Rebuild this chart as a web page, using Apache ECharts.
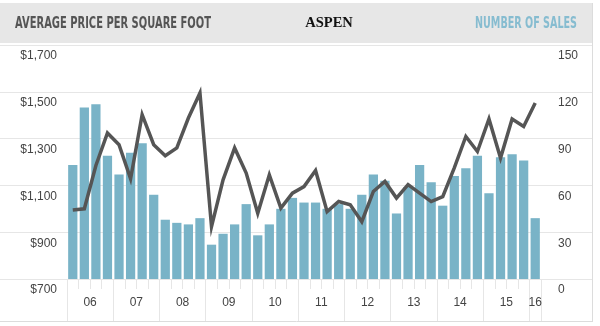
<!DOCTYPE html>
<html>
<head>
<meta charset="utf-8">
<title>Aspen</title>
<script src="https://cdn.jsdelivr.net/npm/echarts@6/dist/echarts.min.js"></script>
<style>
  html, body { margin: 0; padding: 0; background: #ffffff; }
  #chart { width: 600px; height: 326px; }
</style>
</head>
<body>
<div id="chart"></div>
<script>
// Quarterly series, 2006 Q1 through 2016 Q1
const yearLabels = ['06', '07', '08', '09', '10', '11', '12', '13', '14', '15', '16'];
const quarterNames = ['Q1', 'Q2', 'Q3', 'Q4'];

// Number of sales per quarter (right axis)
const sales = [
  73, 110, 112, 79, 67, 81, 87, 54,
  38, 36, 35, 39, 22, 29, 35, 48,
  28, 35, 45, 52, 49, 49, 45, 48,
  45, 54, 67, 63, 42, 59, 73, 62,
  47, 66, 71, 79, 55, 78, 80, 76,
  39
];

// Average price per square foot per quarter (left axis)
const pricePerSqFt = [
  995, 1000, 1185, 1324, 1274, 1128, 1402, 1274,
  1227, 1260, 1388, 1495, 924, 1124, 1260, 1153,
  981, 1145, 1003, 1067, 1095, 1164, 988, 1031,
  1017, 945, 1074, 1117, 1046, 1103, 1067, 1031,
  1052, 1175, 1309, 1245, 1384, 1217, 1384, 1352,
  1452
];

const priceTicks = { min: 700, max: 1700, step: 200 };
const salesTicks = { min: 0, max: 150, step: 30 };

// Category names built from the year labels
const quarters = [];
yearLabels.forEach(function (y) {
  quarterNames.forEach(function (q) {
    if (quarters.length < sales.length) quarters.push('20' + y + ' ' + q);
  });
});

// Year boundaries (in quarter units) and year-label anchor points
const yearStarts = [];
const yearMids = [];
for (let i = 0; i < yearLabels.length; i++) {
  const start = i * 4;
  const end = Math.min(start + 4, quarters.length);
  yearStarts.push(start);
  yearMids.push((start + end) / 2);
}
yearStarts.push(quarters.length);

const AXIS_FONT = 'Liberation Sans, Arial, Helvetica, sans-serif';
const HEAD_FONT = 'bold 16.5px "DejaVu Sans", sans-serif';

function dollars(v) {
  return '$' + String(v).replace(/\B(?=(\d{3})+(?!\d))/g, ',');
}

// Horizontal squeeze so a heading fits a given width (condensed look)
const measureCtx = document.createElement('canvas').getContext('2d');
function squeezeTo(text, font, width) {
  measureCtx.font = font;
  return width / measureCtx.measureText(text).width;
}

const leftHead = 'AVERAGE PRICE PER SQUARE FOOT';
const rightHead = 'NUMBER OF SALES';

const chart = echarts.init(document.getElementById('chart'), null, { renderer: 'canvas' });

chart.setOption({
  animation: false,
  backgroundColor: '#ffffff',
  grid: [
    { left: 67, right: 59, top: 45, bottom: 47 },
    { left: 0, right: 8, top: 45, bottom: 47 }
  ],
  xAxis: [
    {
      type: 'category',
      gridIndex: 0,
      data: quarters,
      boundaryGap: true,
      axisLine: { show: false },
      axisTick: { show: true, interval: 0, length: 10, lineStyle: { color: '#e6e6e6', width: 1 } },
      axisLabel: { show: false },
      splitLine: { show: false }
    },
    {
      type: 'value',
      gridIndex: 0,
      position: 'bottom',
      min: 0,
      max: quarters.length,
      axisLine: { show: false },
      splitLine: { show: false },
      axisTick: { show: true, customValues: yearStarts, length: 42, lineStyle: { color: '#e6e6e6', width: 1 } },
      axisLabel: {
        show: true,
        customValues: yearMids,
        formatter: function (v) { return yearLabels[Math.floor(v / 4)]; },
        color: '#444',
        fontFamily: AXIS_FONT,
        fontSize: 12,
        margin: 18
      }
    },
    { type: 'value', gridIndex: 1, show: false, min: 0, max: 1 }
  ],
  yAxis: [
    {
      type: 'value',
      gridIndex: 0,
      position: 'left',
      min: priceTicks.min,
      max: priceTicks.max,
      interval: priceTicks.step,
      axisLine: { show: false },
      axisTick: { show: false },
      splitLine: { show: false },
      axisLabel: {
        formatter: dollars,
        color: '#444',
        fontFamily: AXIS_FONT,
        fontSize: 12,
        margin: 10,
        verticalAlign: 'top',
        padding: [5, 0, 0, 0]
      }
    },
    {
      type: 'value',
      gridIndex: 0,
      position: 'right',
      min: salesTicks.min,
      max: salesTicks.max,
      interval: salesTicks.step,
      axisLine: { show: false },
      axisTick: { show: false },
      splitLine: { show: false },
      axisLabel: {
        color: '#444',
        fontFamily: AXIS_FONT,
        fontSize: 12,
        margin: 17,
        verticalAlign: 'top',
        padding: [5, 0, 0, 0]
      }
    },
    {
      // full-width horizontal rules behind the plot
      type: 'value',
      gridIndex: 1,
      min: 0,
      max: 5,
      interval: 1,
      axisLine: { show: false },
      axisTick: { show: false },
      axisLabel: { show: false },
      splitLine: { show: true, lineStyle: { color: '#e6e6e6', width: 1 } }
    }
  ],
  graphic: [
    { type: 'rect', z: -1, shape: { x: 0, y: 3, width: 592, height: 40 }, style: { fill: '#e7e7e7' } },
    { type: 'line', shape: { x1: 592.5, y1: 3, x2: 592.5, y2: 321 }, style: { stroke: '#dcdcdc', lineWidth: 1 } },
    { type: 'line', shape: { x1: 0, y1: 321.5, x2: 593, y2: 321.5 }, style: { stroke: '#dcdcdc', lineWidth: 1 } },
    {
      type: 'group', x: 15, y: 23.5, scaleX: squeezeTo(leftHead, HEAD_FONT, 196),
      children: [{
        type: 'text', x: 0, y: 0,
        style: { text: leftHead, fill: '#555555', font: HEAD_FONT, textAlign: 'left', textVerticalAlign: 'middle' }
      }]
    },
    {
      type: 'text', x: 329, y: 23,
      style: { text: 'ASPEN', fill: '#111111', font: 'bold 14.5px "Liberation Serif", "Times New Roman", serif', textAlign: 'center', textVerticalAlign: 'middle' }
    },
    {
      type: 'group', x: 577, y: 23.5, scaleX: squeezeTo(rightHead, HEAD_FONT, 102),
      children: [{
        type: 'text', x: 0, y: 0,
        style: { text: rightHead, fill: '#86bcd0', font: HEAD_FONT, textAlign: 'right', textVerticalAlign: 'middle' }
      }]
    }
  ],
  series: [
    {
      name: 'Number of sales',
      type: 'bar',
      xAxisIndex: 0,
      yAxisIndex: 1,
      data: sales,
      barCategoryGap: '20%',
      itemStyle: { color: '#79b3c7' },
      silent: true,
      z: 2
    },
    {
      name: 'Average price per square foot',
      type: 'line',
      xAxisIndex: 0,
      yAxisIndex: 0,
      data: pricePerSqFt,
      showSymbol: false,
      symbol: 'none',
      lineStyle: { color: '#555555', width: 3.5, join: 'miter', cap: 'butt' },
      silent: true,
      z: 3
    }
  ]
});
</script>
</body>
</html>
